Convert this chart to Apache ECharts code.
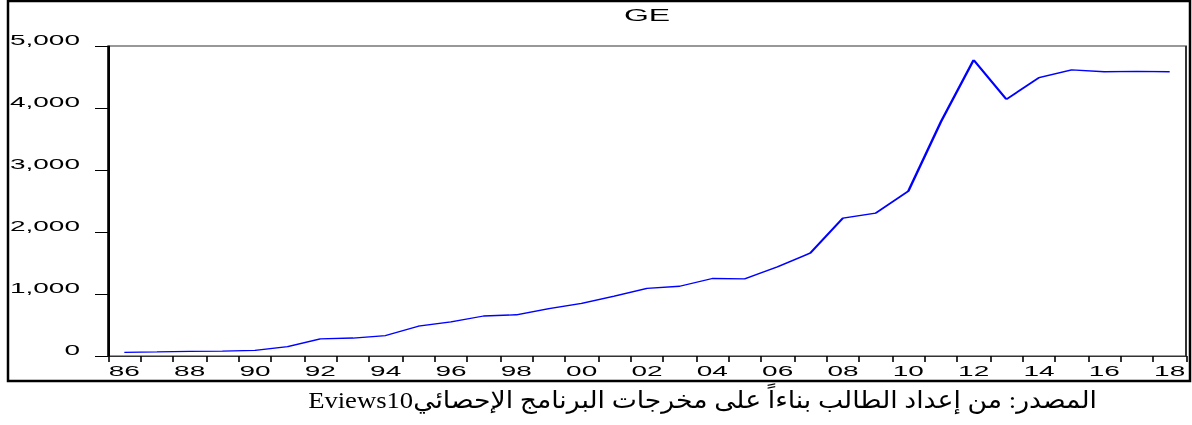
<!DOCTYPE html>
<html>
<head>
<meta charset="utf-8">
<script src="https://cdn.jsdelivr.net/npm/echarts@6/dist/echarts.min.js"></script>
<style>
  html, body { margin: 0; padding: 0; background: #fff; }
  #page { position: relative; width: 1192px; height: 425px; overflow: hidden; }
  #frame { position: absolute; left: 0; top: 0; width: 1192px; height: 425px; }
  /* EViews graph is stretched sideways, so the chart is drawn at half width and scaled */
  #chart { position: absolute; left: 0; top: 0; width: 596px; height: 390px;
           transform: scaleX(2); transform-origin: 0 0; }
</style>
</head>
<body>
<div id="page">
  <div id="frame" dir="rtl"></div>
  <div id="chart"></div>
</div>
<script>
// سنوات السلسلة 1986-2018
const years = ['86', '87', '88', '89', '90', '91', '92', '93', '94', '95', '96',
    '97', '98', '99', '00', '01', '02', '03', '04', '05', '06', '07',
    '08', '09', '10', '11', '12', '13', '14', '15', '16', '17', '18'];
// GE
const geValues = [60, 65, 75, 80, 90, 150, 275, 290, 330, 480, 550,
    645, 665, 765, 850, 965, 1090, 1125, 1250, 1245, 1440, 1660,
    2225, 2305, 2660, 3780, 4775, 4140, 4490, 4615, 4585, 4590, 4585];
const yTicks = [0, 1000, 2000, 3000, 4000, 5000];
const chartTitle = 'GE';
const sourceNote = 'المصدر: من إعداد الطالب بناءاً على مخرجات البرنامج الإحصائيEviews10';

const sansFont = '"Liberation Sans", Arial, sans-serif';

// الإطار الخارجي والمصدر
let frame = echarts.init(document.getElementById('frame'), null, {renderer: 'canvas'});
frame.setOption({
    animation: false,
    graphic: [{
        type: 'rect',
        shape: {x: 8, y: 1, width: 1182, height: 380},
        style: {fill: 'none', stroke: '#000', lineWidth: 2.5},
        silent: true
    }, {
        type: 'text',
        x: 1097,
        y: 402,
        scaleX: 1.11,
        style: {
            text: sourceNote,
            fill: '#000',
            font: '24px "Times New Roman", "Liberation Serif", "DejaVu Sans", serif',
            align: 'right',
            verticalAlign: 'middle'
        }
    }]
});

let chart = echarts.init(document.getElementById('chart'), null, {renderer: 'svg'});
chart.setOption({
    animation: false,
    title: {
        text: chartTitle,
        left: 307,
        top: 2,
        textStyle: {fontFamily: sansFont, fontSize: 16, fontWeight: 'normal', color: '#000'}
    },
    grid: {
        left: 54,
        top: 46,
        width: 539,
        height: 310,
        show: true,
        borderColor: '#333',
        borderWidth: 1,
        containLabel: false
    },
    xAxis: {
        type: 'category',
        data: years,
        boundaryGap: true,
        axisLine: {lineStyle: {color: '#333', width: 1}},
        axisTick: {show: true, interval: 0, length: 6, lineStyle: {color: '#000', width: 0.8}},
        axisLabel: {
            interval: 1,
            margin: 8,
            fontFamily: sansFont,
            fontSize: 14,
            color: '#000'
        },
        splitLine: {show: false}
    },
    yAxis: {
        type: 'value',
        min: yTicks[0],
        max: yTicks[yTicks.length - 1],
        interval: 1000,
        axisLine: {show: true, lineStyle: {color: '#000', width: 1}},
        axisTick: {show: true, length: 6.5, lineStyle: {color: '#000', width: 1}},
        axisLabel: {
            margin: 14,
            fontFamily: sansFont,
            fontSize: 14,
            lineHeight: 12,
            verticalAlign: 'bottom',
            color: '#000',
            formatter: function (value) {
                return value.toLocaleString('en-US');
            }
        },
        splitLine: {show: false}
    },
    series: [{
        type: 'line',
        name: chartTitle,
        data: geValues,
        symbol: 'none',
        lineStyle: {color: '#0000ff', width: 1.3}
    }]
});
</script>
</body>
</html>
